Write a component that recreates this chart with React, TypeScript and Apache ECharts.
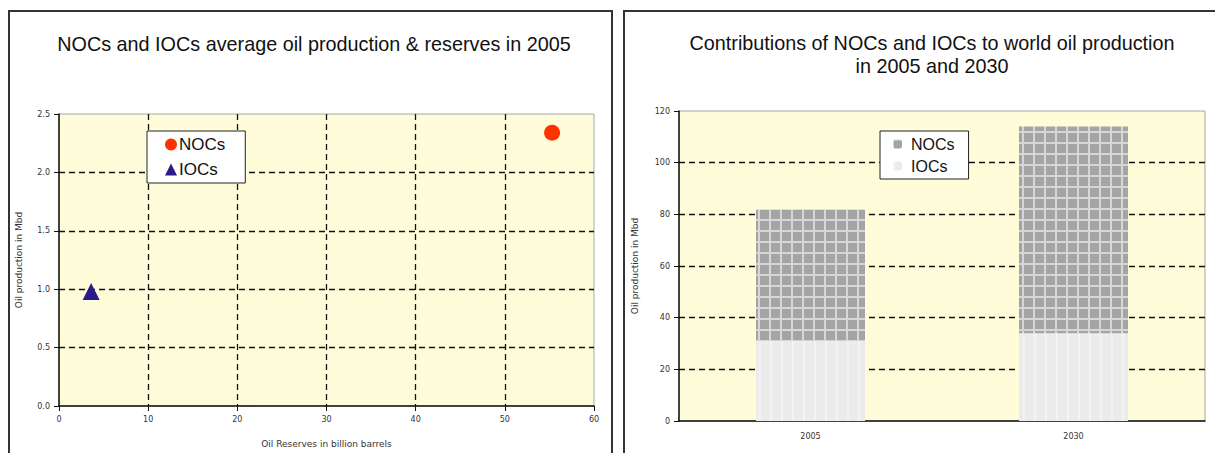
import React, { useEffect, useRef } from "react";
import * as echarts from "echarts";

// Left chart: average reserves (billion barrels) and production (Mbd), 2005
const scatterNames = ["NOCs", "IOCs"];
const nocPoint = [55.3, 2.34];
const iocPoint = [3.6, 0.98];
const reserveTicks = [0, 10, 20, 30, 40, 50, 60];

// Right chart: contributions to world oil production (Mbd)
const years = ["2005", "2030"];
const iocProduction = [31, 34];
const nocProduction = [51, 80];

function makePattern(kind: "noc" | "ioc"): string {
  const c = document.createElement("canvas");
  c.width = 11;
  c.height = 11;
  const ctx = c.getContext("2d")!;
  if (kind === "noc") {
    ctx.fillStyle = "#d6d6d6";
    ctx.fillRect(0, 0, 11, 11);
    ctx.fillStyle = "#a4a4a4";
    ctx.fillRect(1, 1, 9, 9);
  } else {
    ctx.fillStyle = "#ebebeb";
    ctx.fillRect(0, 0, 11, 11);
    ctx.fillStyle = "#f3f3f3";
    ctx.fillRect(0, 0, 2, 11);
  }
  return c.toDataURL();
}

export default function App() {
  const ref = useRef<HTMLDivElement>(null);
  useEffect(() => {
    document.body.style.margin = "0";
    const chart = echarts.init(ref.current!, null, { renderer: "svg" });
    const nocFill: any = { image: makePattern("noc"), repeat: "repeat" };
    const iocFill: any = { image: makePattern("ioc"), repeat: "repeat" };
    const font = "Liberation Sans";
    const small = "DejaVu Sans";
    const axisLabel = { fontSize: 8, color: "#333", fontFamily: small };
    const nameStyle = { fontSize: 9, color: "#333", fontFamily: small };
    const dashed = { show: true, lineStyle: { color: "#111", type: [6, 4] as any, width: 1.3 } };
    chart.setOption({
      animation: false,
      backgroundColor: "#fff",
      title: [
        {
          text: "NOCs and IOCs average oil production & reserves in 2005",
          left: 309,
          top: 29,
          textAlign: "center",
          textStyle: { fontSize: 19.8, fontWeight: "normal", color: "#111", fontFamily: font },
        },
        {
          text: "Contributions of NOCs and IOCs to world oil production\nin 2005 and 2030",
          left: 927,
          top: 26,
          textAlign: "center",
          textStyle: { fontSize: 19.8, fontWeight: "normal", color: "#111", lineHeight: 23, fontFamily: font },
        },
      ],
      legend: [
        {
          data: [
            { name: "NOCs", icon: "circle" },
            { name: "IOCs", icon: "triangle" },
          ],
          left: 147,
          top: 131,
          orient: "vertical",
          borderColor: "#222",
          borderWidth: 1,
          backgroundColor: "#fff",
          padding: [5, 20, 5, 18],
          itemGap: 8,
          itemWidth: 12,
          itemHeight: 12,
          textStyle: { fontSize: 17, color: "#111", fontFamily: font, padding: [0, 0, 0, -3] },
        },
        {
          data: ["NOCs-bar", "IOCs-bar"],
          formatter: (n: string) => n.replace("-bar", ""),
          left: 880,
          top: 131,
          orient: "vertical",
          borderColor: "#222",
          borderWidth: 1,
          backgroundColor: "#fff",
          padding: [5, 14, 5, 13],
          itemGap: 6,
          itemWidth: 9,
          itemHeight: 9,
          textStyle: { fontSize: 16, color: "#111", fontFamily: font, padding: [0, 0, 0, 4] },
        },
      ],
      grid: [
        { left: 59, top: 114, width: 535, height: 295, show: true, backgroundColor: "#FFFCDA", borderColor: "#a8a8a8", borderWidth: 1 },
        { left: 679, top: 111, width: 526, height: 310, show: true, backgroundColor: "#FFFCDA", borderColor: "#a8a8a8", borderWidth: 1 },
      ],
      xAxis: [
        {
          gridIndex: 0,
          type: "value",
          min: reserveTicks[0],
          max: reserveTicks[reserveTicks.length - 1],
          interval: 10,
          axisLine: { show: true, lineStyle: { color: "#111", width: 1.5 } },
          axisTick: { show: true, length: 5, lineStyle: { color: "#111" } },
          axisLabel: { ...axisLabel, margin: 9 },
          splitLine: { ...dashed, showMinLine: false, showMaxLine: false },
          name: "Oil Reserves in billion barrels",
          nameLocation: "middle",
          nameGap: 33,
          nameTextStyle: nameStyle,
        },
        {
          gridIndex: 1,
          type: "category",
          data: years,
          axisLine: { show: true, lineStyle: { color: "#111", width: 1.5 } },
          axisTick: { show: false },
          axisLabel: { ...axisLabel, margin: 11 },
        },
      ],
      yAxis: [
        {
          gridIndex: 0,
          type: "value",
          min: 0,
          max: 2.5,
          interval: 0.5,
          axisLine: { show: true, lineStyle: { color: "#111", width: 1.5 } },
          axisTick: { show: true, length: 5, lineStyle: { color: "#111" } },
          axisLabel: { ...axisLabel, margin: 9, formatter: (v: number) => v.toFixed(1) },
          splitLine: { ...dashed, showMinLine: false, showMaxLine: false },
          name: "Oil production in Mbd",
          nameLocation: "middle",
          nameGap: 36,
          nameTextStyle: nameStyle,
        },
        {
          gridIndex: 1,
          type: "value",
          min: 0,
          max: 120,
          interval: 20,
          axisLine: { show: true, lineStyle: { color: "#111", width: 1.5 } },
          axisTick: { show: true, length: 5, lineStyle: { color: "#111" } },
          axisLabel: { ...axisLabel, margin: 9 },
          splitLine: { ...dashed, showMinLine: false, showMaxLine: false },
          name: "Oil production in Mbd",
          nameLocation: "middle",
          nameGap: 40,
          nameTextStyle: nameStyle,
        },
      ],
      series: [
        {
          name: scatterNames[0],
          type: "scatter",
          xAxisIndex: 0,
          yAxisIndex: 0,
          symbol: "circle",
          symbolSize: 16,
          itemStyle: { color: "#FF3300", opacity: 1 },
          data: [nocPoint],
        },
        {
          name: scatterNames[1],
          type: "scatter",
          xAxisIndex: 0,
          yAxisIndex: 0,
          symbol: "triangle",
          symbolSize: 17,
          itemStyle: { color: "#2B1A8A", opacity: 1 },
          data: [iocPoint],
        },
        {
          name: "IOCs-bar",
          type: "bar",
          xAxisIndex: 1,
          yAxisIndex: 1,
          stack: "prod",
          barWidth: 109,
          itemStyle: { color: iocFill },
          data: iocProduction,
        },
        {
          name: "NOCs-bar",
          type: "bar",
          xAxisIndex: 1,
          yAxisIndex: 1,
          stack: "prod",
          barWidth: 109,
          itemStyle: { color: nocFill },
          data: nocProduction,
        },
      ],
      graphic: [
        {
          type: "rect",
          shape: { x: 9, y: 11, width: 603, height: 460 },
          style: { fill: "none", stroke: "#333", lineWidth: 2 },
          z: 100,
        },
        {
          type: "rect",
          shape: { x: 624, y: 11, width: 620, height: 460 },
          style: { fill: "none", stroke: "#333", lineWidth: 2 },
          z: 100,
        },
      ],
    });
    return () => chart.dispose();
  }, []);
  return <div ref={ref} style={{ width: 1215, height: 453 }} />;
}
